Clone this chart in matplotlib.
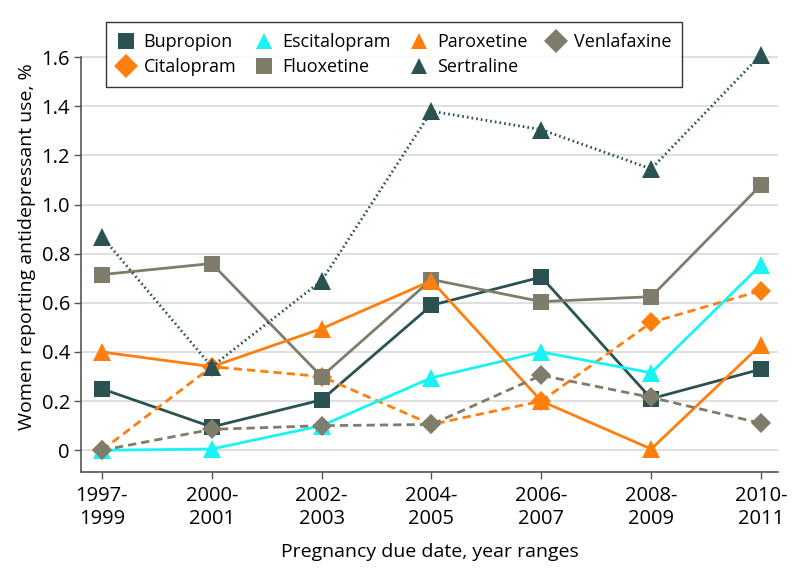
import matplotlib
matplotlib.use("Agg")
import matplotlib.pyplot as plt

periods = ["1997-\n1999", "2000-\n2001", "2002-\n2003", "2004-\n2005",
           "2006-\n2007", "2008-\n2009", "2010-\n2011"]

bupropion = [0.25, 0.095, 0.205, 0.59, 0.705, 0.21, 0.33]
citalopram = [0.0, 0.34, 0.30, 0.105, 0.20, 0.52, 0.65]
escitalopram = [0.0, 0.005, 0.10, 0.295, 0.40, 0.315, 0.755]
fluoxetine = [0.715, 0.76, 0.30, 0.695, 0.605, 0.625, 1.08]
paroxetine = [0.40, 0.34, 0.495, 0.69, 0.20, 0.005, 0.43]
sertraline = [0.87, 0.34, 0.69, 1.38, 1.305, 1.145, 1.61]
venlafaxine = [0.0, 0.085, 0.10, 0.105, 0.305, 0.215, 0.11]

teal = "#2a5251"
cyan = "#18f4f4"
orange = "#ff7f0e"
olive = "#7e7c6a"

plt.rcParams["font.family"] = ["Open Sans", "DejaVu Sans"]

fig = plt.figure(figsize=(7.94, 5.80), dpi=100)
ax = fig.add_axes([0.102, 0.186, 0.878, 0.779])

x = list(range(len(periods)))

# (name, values, color, marker, linestyle, markersize)
series = [
    ("Bupropion", bupropion, teal, "s", "-", 11.5),
    ("Citalopram", citalopram, orange, "D", (0, (3, 1.8)), 10.5),
    ("Escitalopram", escitalopram, cyan, "^", "-", 13.5),
    ("Fluoxetine", fluoxetine, olive, "s", "-", 11.5),
    ("Paroxetine", paroxetine, orange, "^", "-", 13.5),
    ("Sertraline", sertraline, teal, "^", (0, (0.6, 1.1)), 13.5),
    ("Venlafaxine", venlafaxine, olive, "D", (0, (3, 1.8)), 10.5),
]

for name, vals, col, mk, ls, ms in series:
    ax.plot(x, vals, color=col, linestyle=ls, linewidth=2.0, marker=mk,
            markersize=ms, markeredgewidth=0, label=name, clip_on=False)

ax.set_xlim(-0.19, 6.155)
ax.set_ylim(-0.089, 1.75)
ax.set_yticks([0, 0.2, 0.4, 0.6, 0.8, 1.0, 1.2, 1.4, 1.6])
ax.set_yticklabels(["0", "0.2", "0.4", "0.6", "0.8", "1.0", "1.2", "1.4", "1.6"])
ax.set_xticks(x)
ax.set_xticklabels(periods, linespacing=1.2)
ax.yaxis.grid(True, color="#d9d9d9", linewidth=1.2)
ax.set_axisbelow(True)

for s in ["top", "right"]:
    ax.spines[s].set_visible(False)
ax.spines["left"].set_bounds(-0.089, 1.6)
ax.spines["left"].set_color("#555555")
ax.spines["bottom"].set_color("#555555")
ax.spines["left"].set_linewidth(1.2)
ax.spines["bottom"].set_linewidth(1.2)
ax.tick_params(axis="both", labelsize=14.5, colors="#555555", labelcolor="black",
               length=5, width=1)
ax.tick_params(axis="x", pad=5)
ax.tick_params(axis="y", pad=3)

ax.set_ylabel("Women reporting antidepressant use, %", fontsize=14, labelpad=4)
ax.set_xlabel("Pregnancy due date, year ranges", fontsize=14, labelpad=10)

leg = ax.legend(ncol=4, loc="upper left", bbox_to_anchor=(0.033, 1.0),
                fontsize=13, frameon=True, fancybox=False, edgecolor="black",
                handlelength=1.0, handletextpad=0.5, columnspacing=1.05,
                borderpad=0.6, labelspacing=0.4, borderaxespad=0.1)
leg.get_frame().set_linewidth(1.0)
for h in leg.legend_handles:
    h.set_linestyle("none")
    h.set_markersize(12)

fig.savefig("out.png", dpi=100)
